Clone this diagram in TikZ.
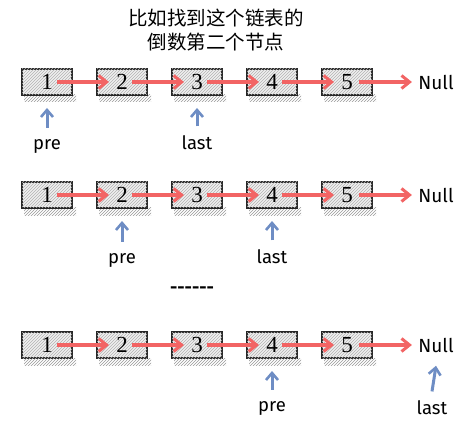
\documentclass[tikz,border=0pt]{standalone}
\usepackage{fontspec}
\setmainfont{Liberation Serif}
\newfontfamily\cjk{Noto Sans CJK SC}
\newfontfamily\lab{Fira Sans}
\usetikzlibrary{arrows.meta,patterns}
\definecolor{redA}{HTML}{F26464}
\definecolor{blueA}{HTML}{6E8DC4}
\begin{document}
\begin{tikzpicture}[x=1pt,y=-1pt,
  nodebox/.style={draw=black!85,line width=2pt,minimum width=50pt,minimum height=26pt,inner sep=0pt,
    fill=gray!12,postaction={pattern=north east lines,pattern color=gray!60},font=\fontsize{23}{23}\selectfont},
  shadowhatch/.style={pattern=north east lines,pattern color=gray!80,draw=none},
  link/.style={draw=redA,line width=3.8pt,-{Straight Barb[length=8pt,width=13pt,line width=3pt]}},
  ptr/.style={draw=blueA,line width=3pt,-{Straight Barb[length=7pt,width=12pt,line width=2.6pt]}},
  lbl/.style={font=\lab\fontsize{18.5}{18.5}\selectfont},
  nulllbl/.style={font=\lab\fontsize{19}{19}\selectfont}]
\useasboundingbox (0,0) rectangle (465,430);
\node[font=\cjk\fontsize{19.5}{24}\selectfont,align=center] (title) at (216,30) {比如找到这个链表的\\倒数第二个节点};
\foreach \r/\y in {a/82,b/195,c/345}{
  \foreach \i in {1,...,5}{
    \path[shadowhatch] ({47+75*(\i-1)-23},\y+13) rectangle ({47+75*(\i-1)+29},\y+20);
    \node[nodebox] (\r\i) at ({47+75*(\i-1)},\y) {\i};
  }
  \node[nulllbl] (\r n) at (436,\y) {Null};
  \foreach \i/\j in {1/2,2/3,3/4,4/5}{
    \draw[link] ([xshift=10pt]\r\i.center) -- ([xshift=-13pt]\r\j.center);
  }
  \draw[link] ([xshift=12pt]\r5.center) -- ([xshift=-3pt]\r n.west);
}
% row 1 pointers
\node[lbl] (pa) at (47,146) {pre};
\node[lbl] (la) at (197,143) {last};
\draw[ptr] ([yshift=8pt]pa.north) -- ([yshift=-12pt]a1.south);
\draw[ptr] ([yshift=6pt]la.north) -- ([yshift=-12pt]a3.south);
% row 2
\node[lbl] (pb) at (122,260) {pre};
\node[lbl] (lb) at (272,257) {last};
\draw[ptr] ([yshift=8pt]pb.north) -- ([yshift=-12pt]b2.south);
\draw[ptr] ([yshift=6pt]lb.north) -- ([yshift=-12pt]b4.south);
% dots
\node[font=\lab\bfseries\fontsize{18}{18}\selectfont] (dots) at (192,290) {------};
% row 3
\node[lbl] (pc) at (272,408) {pre};
\node[lbl] (lc) at (432,408) {last};
\draw[ptr] ([yshift=8pt]pc.north) -- ([yshift=-12pt]c4.south);
\draw[ptr] ([yshift=6pt]lc.north) -- ([yshift=-10pt]cn.south);
\end{tikzpicture}
\end{document}
